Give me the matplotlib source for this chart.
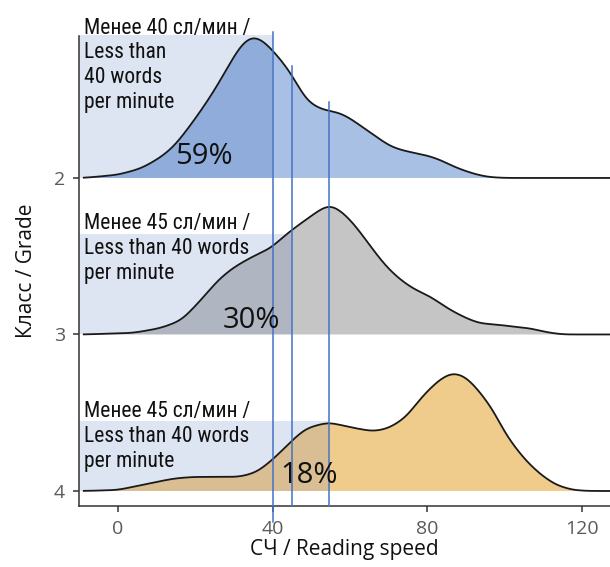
import numpy as np
import matplotlib
matplotlib.use("Agg")
import matplotlib.pyplot as plt
from matplotlib.patches import Rectangle

# ---- data -------------------------------------------------------------
grades = ["2", "3", "4"]
row_pos = [2, 1, 0]

speed_g2 = [-9, 0, 6, 11, 14.5, 18, 21.5, 25, 28.5, 31.5, 33.5, 35, 37.5, 39.5,
            43, 45.5, 48.5, 51.5, 54, 57, 59.5, 63, 67, 70.5, 74.5, 79, 83, 87,
            91.5, 95.5, 100, 127.5]
dens_g2 = [0, .02, .06, .13, .20, .31, .43, .56, .71, .84, .89, .91, .88, .83,
           .73, .64, .50, .45, .43, .42, .39, .33, .26, .20, .17, .15, .12, .07,
           .03, .006, 0, 0]

speed_g3 = [-9, 4, 11, 16.5, 21.5, 26, 30, 35, 39.5, 44, 49, 53, 54.5, 56, 59.5,
            62.5, 66, 69.5, 73, 76.5, 81, 85, 89.5, 93.5, 98, 102, 106.5, 111,
            115, 127.5]
dens_g3 = [0, .01, .04, .09, .22, .35, .43, .50, .55, .65, .74, .81, .83, .82,
           .75, .66, .54, .43, .35, .29, .24, .17, .11, .07, .064, .05, .04,
           .013, 0, 0]

speed_g4 = [-9, 0, 8.5, 14.5, 19.5, 26, 31.5, 36, 40.5, 44.5, 48.5, 54.5, 59.5,
            66, 70, 74.5, 78.5, 83, 86.5, 90, 93, 97, 100, 104.5, 108.5, 113,
            117.5, 121.5, 127.5]
dens_g4 = [0, .006, .05, .08, .09, .09, .09, .12, .21, .31, .40, .44, .41, .38,
           .40, .47, .60, .71, .76, .73, .65, .52, .37, .22, .12, .04, .006, 0, 0]

thresholds = [40, 45, 54.5]
shares = ["59%", "30%", "18%"]
notes = ["Менее 40 сл/мин /\nLess than\n40 words\nper minute",
         "Менее 45 сл/мин /\nLess than 40 words\nper minute",
         "Менее 45 сл/мин /\nLess than 40 words\nper minute"]

x_ticks = [0, 40, 80, 120]

# ---- style ------------------------------------------------------------
fill_out = ["#a7c0e4", "#c5c5c5", "#f0cc8c"]
fill_in = ["#8facda", "#b0b6c1", "#d9be93"]
band_color = "#dde5f2"
line_color = "#4472c4"

band_top = [0.914, 0.642, 0.447]
note_y = [3.025, 1.775, 0.575]
share_xy = [(22.2, 2.135), (34.6, 1.09), (49.5, 0.10)]
vline_span = [(-0.198, 2.933), (-0.096, 2.716), (-0.096, 2.486)]

XMIN, XMAX = -10, 127.2
YMIN, YMAX = -0.096, 2.907

note_font = ["Roboto Condensed", "Liberation Sans Narrow", "DejaVu Sans"]
main_font = ["Open Sans", "DejaVu Sans"]


def smooth_curve(x, y, step=0.05, sigma=1.6):
    """Piecewise-linear profile through the points, softened with a Gaussian."""
    xs = np.arange(x[0], x[-1] + step / 2, step)
    ys = np.interp(xs, x, y)
    half = int(4 * sigma / step)
    k = np.exp(-0.5 * (np.arange(-half, half + 1) * step / sigma) ** 2)
    k /= k.sum()
    padded = np.concatenate([np.full(half, ys[0]), ys, np.full(half, ys[-1])])
    return xs, np.convolve(padded, k, mode="valid")


fig = plt.figure(figsize=(6.1, 5.67), dpi=100)
ax = fig.add_axes([79 / 610, 1 - 506 / 567, 1 - 79 / 610, (506 - 36) / 567])
ax.set_xlim(XMIN, XMAX)
ax.set_ylim(YMIN, YMAX)

series = [(speed_g2, dens_g2), (speed_g3, dens_g3), (speed_g4, dens_g4)]

for i, ((sx, sy), base) in enumerate(zip(series, row_pos)):
    thr = thresholds[i]
    # light band marking the below-threshold zone
    ax.add_patch(Rectangle((XMIN, base), thr - XMIN, band_top[i],
                           facecolor=band_color, edgecolor="none",
                           zorder=1, clip_on=False))
    xs, ys = smooth_curve(sx, sy)
    ys = np.clip(ys, 0, None)
    ax.fill_between(xs, base, base + ys, where=xs <= thr + 0.05,
                    facecolor=fill_in[i], edgecolor="none", zorder=2)
    ax.fill_between(xs, base, base + ys, where=xs >= thr - 0.05,
                    facecolor=fill_out[i], edgecolor="none", zorder=2)
    ax.plot(xs, base + ys, color="#1a1a1a", lw=1.3, zorder=4,
            solid_capstyle="butt", clip_on=False)

    ax.text(-8.8, note_y[i], notes[i], ha="left", va="top",
            family=note_font, fontstretch="condensed", fontweight="normal",
            fontsize=15.5, color="#111111", linespacing=1.24, zorder=6)
    ax.text(share_xy[i][0], share_xy[i][1], shares[i], ha="center",
            va="center", family=main_font, fontsize=21, color="#111111",
            zorder=6)

for thr, (y0, y1) in zip(thresholds, vline_span):
    ax.plot([thr, thr], [y0, y1], color=line_color, lw=1.1, zorder=5,
            clip_on=False)

ax.set_xticks(x_ticks)
ax.set_xticklabels([str(v) for v in x_ticks])
ax.set_yticks(row_pos)
ax.set_yticklabels(grades)

for s in ["top", "right"]:
    ax.spines[s].set_visible(False)
for s in ["left", "bottom"]:
    ax.spines[s].set_color("#333333")
    ax.spines[s].set_linewidth(1.1)

ax.tick_params(axis="both", length=4, width=1.1, color="#333333",
               labelcolor="#5a5a5a", labelsize=14)
ax.tick_params(axis="x", pad=6)
ax.tick_params(axis="y", pad=6)
for lab in ax.get_xticklabels() + ax.get_yticklabels():
    lab.set_family(main_font)

ax.set_xlabel("СЧ / Reading speed", family=main_font, fontsize=15,
              color="#111111", labelpad=1)
ax.set_ylabel("Класс / Grade", family=main_font, fontsize=15,
              color="#111111", labelpad=12)

fig.savefig("out.png", dpi=100)
